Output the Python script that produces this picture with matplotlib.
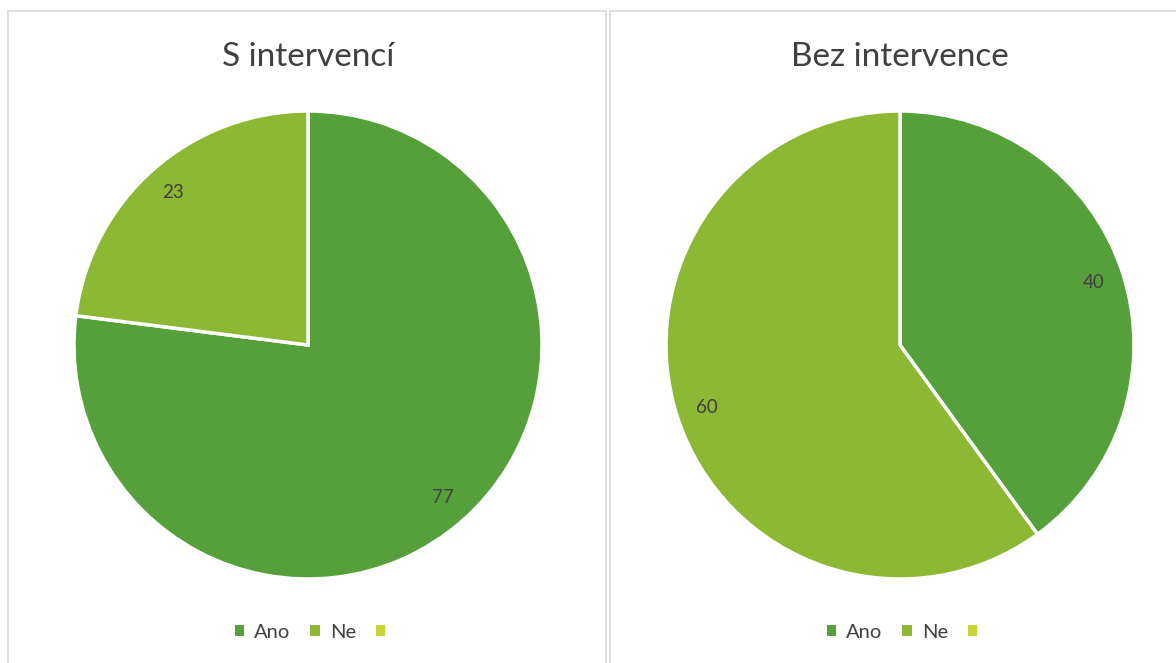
import matplotlib.pyplot as plt
from matplotlib.patches import Patch, Rectangle

# data
categories = ["Ano", "Ne", ""]
titles = ["S intervencí", "Bez intervence"]
values_left = [77, 23]
values_right = [40, 60]
colors = ["#55A03A", "#8CB834", "#C6D43A"]

W, H = 1176, 663
plt.rcParams["font.family"] = ["Lato", "DejaVu Sans"]

fig = plt.figure(figsize=(W / 100, H / 100), dpi=100)


def px_box(x0, y0, x1, y1):
    # pixel box (top-left origin) -> figure fraction [l, b, w, h]
    return [x0 / W, 1 - y1 / H, (x1 - x0) / W, (y1 - y0) / H]


# chart frames
for x0, x1 in [(8, 606), (610, 1180)]:
    l, b, w, h = px_box(x0, 11, x1, 670)
    fig.add_artist(Rectangle((l, b), w, h, transform=fig.transFigure,
                             facecolor="none", edgecolor="#d9d9d9", lw=1.2))

panels = [
    (values_left, titles[0], (308, 345), 315),
    (values_right, titles[1], (900, 345), 907),
]
R = 234
for values, title, (cx, cy), legx in panels:
    ax = fig.add_axes(px_box(cx - R, cy - R, cx + R, cy + R))
    wedges, texts = ax.pie(values, colors=colors[:len(values)], startangle=90,
                           counterclock=False, labels=[str(v) for v in values],
                           labeldistance=0.87,
                           wedgeprops=dict(edgecolor="white", linewidth=2.5),
                           textprops=dict(fontsize=13.5, color="#404040"))
    for t in texts:
        t.set_horizontalalignment("center")
        t.set_verticalalignment("center")
    ax.set_xlim(-1.0, 1.0)
    ax.set_ylim(-1.0, 1.0)
    fig.text(cx / W, 1 - 57 / H, title, ha="center", va="center",
             fontsize=24, color="#404040")
    handles = [Patch(facecolor=c, edgecolor="none") for c in colors]
    fig.legend(handles, categories, loc="center", ncol=3,
               bbox_to_anchor=(legx / W, 1 - 632 / H), frameon=False,
               fontsize=14.5, handlelength=0.45, handleheight=0.45,
               handletextpad=0.5, columnspacing=1.0, labelcolor="#404040")

fig.savefig("out.png", dpi=100, facecolor="white")
